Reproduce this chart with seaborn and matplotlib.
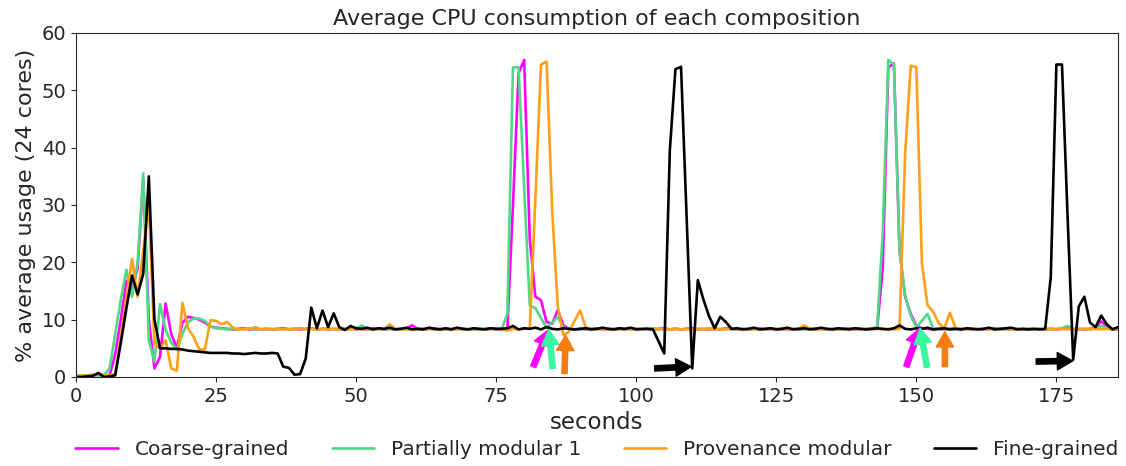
import numpy as np
import pandas as pd
import matplotlib
matplotlib.use('Agg')
import matplotlib.pyplot as plt
import seaborn as sns

# one sample per second, 0..186
seconds = list(range(187))

coarse = [
    0.2, 0.2, 0.3, 0.3, 0.4, 0.3, 0.3, 4.0, 10.0, 16.8,
    15.0, 19.0, 34.5, 10.0, 1.5, 3.5, 12.8, 7.5, 5.0, 9.5,
    10.5, 10.3, 10.0, 9.5, 8.8, 8.6, 8.5, 8.4, 8.3, 8.4,
    8.5, 8.3, 8.4, 8.3, 8.4, 8.3, 8.4, 8.5, 8.3, 8.4,
    8.3, 8.4, 8.5, 8.3, 8.4, 8.3, 8.4, 8.3, 8.4, 8.5,
    8.3, 8.4, 8.3, 8.5, 8.4, 8.3, 8.4, 8.3, 8.4, 8.5,
    9.0, 8.4, 8.3, 8.4, 8.5, 8.3, 8.4, 8.3, 8.5, 8.4,
    8.3, 8.4, 8.3, 8.4, 8.5, 8.3, 8.4, 8.4, 30.0, 53.0,
    55.3, 24.0, 14.0, 13.4, 9.6, 9.3, 11.7, 9.0, 8.4, 8.3,
    8.4, 8.3, 8.4, 8.5, 8.3, 8.4, 8.3, 8.4, 8.3, 8.5,
    8.4, 8.3, 8.4, 8.3, 8.4, 8.5, 8.3, 8.4, 8.3, 8.4,
    8.5, 8.3, 8.4, 8.3, 8.4, 8.3, 8.5, 8.4, 8.3, 8.4,
    8.3, 8.4, 8.5, 8.3, 8.4, 8.3, 8.4, 8.3, 8.4, 8.3,
    8.4, 8.5, 8.3, 8.4, 8.3, 8.4, 8.3, 8.4, 8.5, 8.3,
    8.4, 8.3, 8.4, 8.4, 19.0, 54.0, 54.7, 22.0, 14.0, 11.0,
    9.0, 8.5, 8.4, 8.3, 8.4, 8.3, 8.4, 8.5, 8.3, 8.4,
    8.3, 8.4, 8.3, 8.4, 8.5, 8.3, 8.4, 8.3, 8.4, 8.3,
    8.4, 8.3, 8.4, 8.3, 8.4, 8.3, 8.4, 8.5, 8.3, 8.4,
    8.3, 8.4, 8.6, 9.7, 8.8, 8.4, 8.3,
]

partial = [
    0.3, 0.3, 0.3, 0.4, 0.3, 0.3, 1.5, 7.5, 13.5, 18.7,
    14.0, 20.0, 35.5, 6.4, 2.7, 12.7, 8.2, 6.0, 4.8, 7.5,
    9.6, 10.2, 10.2, 9.8, 8.8, 8.5, 8.4, 8.3, 8.4, 8.3,
    8.4, 8.5, 8.3, 8.4, 8.3, 8.4, 8.3, 8.4, 8.3, 8.4,
    8.5, 8.3, 8.4, 8.3, 8.4, 8.5, 8.3, 8.4, 8.3, 8.4,
    8.4, 9.0, 8.4, 8.3, 8.4, 8.3, 8.4, 8.3, 8.4, 8.3,
    8.4, 8.3, 8.5, 8.4, 8.3, 8.4, 8.3, 8.4, 8.5, 8.3,
    8.4, 8.3, 8.4, 8.3, 8.4, 8.5, 8.4, 11.0, 54.0, 54.0,
    33.0, 12.5, 12.0, 10.3, 8.6, 9.5, 10.5, 8.6, 8.4, 8.3,
    8.3, 8.4, 8.3, 8.4, 8.5, 8.3, 8.4, 8.3, 8.4, 8.3,
    8.4, 8.3, 8.4, 8.5, 8.3, 8.4, 8.3, 8.4, 8.3, 8.4,
    8.3, 8.4, 8.3, 8.5, 8.4, 8.3, 8.4, 8.3, 8.4, 8.3,
    8.4, 8.3, 8.4, 8.3, 8.5, 8.4, 8.3, 8.4, 8.3, 8.4,
    8.3, 8.4, 8.5, 8.3, 8.4, 8.3, 8.4, 8.3, 8.4, 8.5,
    8.3, 8.4, 8.4, 8.8, 25.0, 55.3, 54.5, 22.0, 14.3, 10.7,
    8.7, 9.8, 11.0, 8.5, 8.4, 8.3, 8.4, 8.3, 8.4, 8.3,
    8.4, 8.3, 8.4, 8.5, 8.3, 8.4, 8.3, 8.4, 8.3, 8.4,
    8.3, 8.4, 8.3, 8.4, 8.3, 8.4, 8.5, 8.9, 8.4, 8.3,
    8.4, 8.3, 8.5, 8.9, 8.6, 8.3, 8.4,
]

provenance = [
    0.2, 0.2, 0.3, 0.3, 0.5, 0.3, 0.3, 0.5, 7.0, 14.0,
    20.6, 14.0, 22.0, 30.5, 5.7, 5.0, 6.4, 1.5, 1.1, 12.9,
    8.5, 7.0, 4.8, 4.8, 9.9, 9.8, 9.2, 9.6, 8.6, 8.3,
    8.3, 8.4, 8.7, 8.3, 8.4, 8.3, 8.4, 8.3, 8.4, 8.3,
    8.4, 8.3, 8.4, 8.3, 8.4, 8.3, 8.4, 8.3, 8.4, 8.3,
    8.4, 8.3, 8.4, 8.3, 8.4, 8.3, 9.2, 8.4, 8.3, 8.4,
    8.3, 8.4, 8.3, 8.4, 8.3, 8.4, 8.3, 8.4, 8.3, 8.4,
    8.3, 8.4, 8.3, 8.4, 8.3, 8.4, 8.3, 8.1, 8.4, 8.3,
    8.4, 8.5, 31.0, 54.5, 55.0, 29.0, 12.3, 7.3, 7.9, 9.8,
    11.6, 8.6, 8.4, 8.3, 8.4, 8.3, 8.4, 8.3, 8.4, 8.3,
    8.4, 8.3, 8.4, 8.3, 8.3, 8.4, 8.3, 8.4, 8.3, 8.4,
    8.3, 8.4, 8.3, 8.4, 8.3, 8.4, 8.3, 8.4, 8.3, 8.4,
    8.3, 8.4, 8.3, 8.4, 8.3, 8.4, 8.3, 8.4, 8.3, 8.4,
    9.0, 8.4, 8.3, 8.4, 8.3, 8.4, 8.3, 8.4, 8.3, 8.4,
    8.3, 8.4, 8.3, 8.4, 8.3, 8.4, 8.3, 8.4, 38.9, 54.3,
    54.0, 19.8, 12.5, 11.4, 9.4, 8.5, 11.2, 8.6, 8.4, 8.3,
    8.4, 8.3, 8.4, 8.3, 8.4, 8.3, 8.4, 8.3, 8.4, 8.3,
    8.4, 8.3, 8.4, 8.3, 8.4, 8.3, 8.4, 8.3, 8.4, 8.3,
    8.4, 8.3, 8.4, 8.3, 8.4, 8.3, 8.4,
]

fine = [
    0.0, 0.0, 0.1, 0.2, 0.7, 0.0, 0.1, 0.3, 6.0, 12.0,
    17.7, 14.4, 18.0, 35.0, 10.0, 5.0, 5.0, 4.9, 4.9, 4.8,
    4.6, 4.5, 4.4, 4.3, 4.2, 4.2, 4.2, 4.2, 4.1, 4.1,
    4.0, 4.1, 4.2, 4.1, 4.1, 4.2, 4.1, 1.8, 1.6, 0.4,
    0.5, 3.2, 12.1, 8.5, 11.6, 8.7, 11.1, 8.7, 8.2, 8.9,
    8.5, 8.4, 8.6, 8.3, 8.5, 8.4, 8.6, 8.3, 8.4, 8.6,
    8.3, 8.4, 8.3, 8.6, 8.4, 8.3, 8.5, 8.3, 8.6, 8.4,
    8.3, 8.5, 8.4, 8.3, 8.5, 8.4, 8.4, 8.5, 8.9, 8.3,
    8.5, 8.4, 8.6, 8.3, 8.7, 8.4, 8.3, 8.5, 8.4, 8.3,
    8.4, 8.5, 8.3, 8.4, 8.6, 8.4, 8.3, 8.5, 8.4, 8.6,
    8.3, 8.4, 8.4, 8.3, 6.2, 4.1, 39.5, 53.7, 54.1, 28.0,
    1.5, 16.9, 13.5, 10.6, 8.5, 10.5, 9.6, 8.4, 8.5, 8.3,
    8.4, 8.6, 8.3, 8.4, 8.5, 8.3, 8.4, 8.6, 8.3, 8.4,
    8.5, 8.3, 8.4, 8.6, 8.4, 8.3, 8.5, 8.4, 8.3, 8.5,
    8.4, 8.3, 8.4, 8.5, 8.4, 8.3, 8.5, 9.0, 8.4, 8.3,
    8.5, 8.4, 8.6, 8.3, 8.4, 8.5, 8.3, 8.4, 8.3, 8.5,
    8.4, 8.3, 8.4, 8.6, 8.3, 8.4, 8.5, 8.6, 8.3, 8.4,
    8.3, 8.4, 8.3, 8.4, 17.4, 54.5, 54.5, 28.0, 3.0, 12.3,
    14.0, 9.5, 8.7, 10.7, 9.2, 8.3, 8.7,
]

labels = ['Coarse-grained', 'Partially modular 1', 'Provenance modular', 'Fine-grained']
line_colors = ['#ff00ff', '#4fd985', '#ff9f1a', '#000000']

# arrows marking where each composition finishes: (tail x, tail y, head x, head y)
arrows_x0 = [81.6, 85.1, 87.2, 103.3, 148.2, 151.9, 155.1, 171.4]
arrows_y0 = [1.8, 1.5, 0.6, 1.5, 1.8, 1.7, 1.8, 2.7]
arrows_x1 = [84.3, 84.4, 87.4, 109.8, 150.6, 150.7, 155.1, 177.9]
arrows_y1 = [8.2, 8.2, 7.3, 1.8, 8.5, 8.5, 7.9, 2.8]
arrow_colors = ['#ff00ff', '#3cf7a0', '#f57c10', '#000000',
                '#ff00ff', '#3cf7a0', '#f57c10', '#000000']

df = pd.DataFrame({
    'seconds': seconds * 4,
    'usage': coarse + partial + provenance + fine,
    'composition': sum([[lab] * len(seconds) for lab in labels], []),
})

sns.set_style('ticks')
plt.rcParams['font.family'] = ['DejaVu Sans']

fig = plt.figure(figsize=(11.26, 4.66), dpi=100)
ax = fig.add_axes([76 / 1126, 1 - 377 / 466, (1118 - 76) / 1126, (377 - 33) / 466])

sns.lineplot(data=df, x='seconds', y='usage', hue='composition', hue_order=labels,
             palette=line_colors, linewidth=1.9, ax=ax)

for x0, y0, x1, y1, c in zip(arrows_x0, arrows_y0, arrows_x1, arrows_y1, arrow_colors):
    ax.annotate('', xy=(x1, y1), xytext=(x0, y0),
                arrowprops=dict(facecolor=c, edgecolor=c, width=3.8, headwidth=12.5,
                                headlength=11, shrink=0))

ax.set_xlim(0, 186)
ax.set_ylim(0, 60)
ax.set_xticks(range(0, 176, 25))
ax.set_yticks(range(0, 61, 10))
ax.tick_params(labelsize=14)
ax.set_title('Average CPU consumption of each composition', fontsize=16)
ax.set_xlabel('seconds', fontsize=16.5)
ax.set_ylabel('% average usage (24 cores)', fontsize=16)

handles, _ = ax.get_legend_handles_labels()
ax.legend(handles=handles, labels=labels, loc='center', bbox_to_anchor=(0.5, -0.212),
          ncol=4, frameon=False, fontsize=14.5, handlelength=2.1, handletextpad=0.85,
          columnspacing=2.1)

fig.savefig('out.png', dpi=100)
